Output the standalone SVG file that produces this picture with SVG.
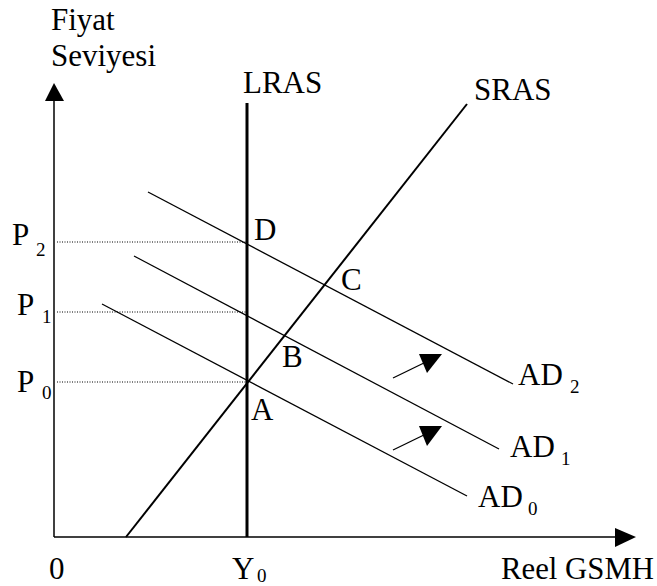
<svg xmlns="http://www.w3.org/2000/svg" width="657" height="586" viewBox="0 0 657 586">
<style>
text{font-family:"Liberation Serif","Times New Roman",serif;fill:#000;font-size:31px}
.sub{font-size:19px}
.ad{stroke:#000;stroke-width:1.3;fill:none}
.dot{stroke:#000;stroke-width:1;stroke-dasharray:1 1.5;fill:none}
.ax{stroke:#000;stroke-width:1.5;fill:none}
</style>
<rect width="657" height="586" fill="#fff"/>
<g id="axes">
<line class="ax" x1="54" y1="98" x2="54" y2="537"/>
<polygon points="54,83 45,101 64,101" fill="#000"/>
<line class="ax" x1="54" y1="537" x2="618" y2="537"/>
<polygon points="636,537 615,528 615,547" fill="#000"/>
</g>
<g id="guides">
<line class="dot" x1="57" y1="242" x2="246" y2="242"/>
<line class="dot" x1="57" y1="312" x2="246" y2="312"/>
<line class="dot" x1="57" y1="382" x2="246" y2="382"/>
</g>
<g id="LRAS">
<line x1="247" y1="103" x2="247" y2="537" stroke="#000" stroke-width="3"/>
<text x="243" y="93">LRAS</text>
</g>
<g id="SRAS">
<line x1="126" y1="537" x2="467" y2="104" stroke="#000" stroke-width="2"/>
<text x="474" y="100">SRAS</text>
</g>
<g id="AD0">
<line class="ad" x1="102" y1="304" x2="467" y2="496"/>
<text x="478" y="507">AD<tspan class="sub" x="528" y="515">0</tspan></text>
</g>
<g id="AD1">
<line class="ad" x1="134" y1="256" x2="499" y2="449"/>
<text x="510" y="457">AD<tspan class="sub" x="561" y="465">1</tspan></text>
</g>
<g id="AD2">
<line class="ad" x1="148" y1="192" x2="513" y2="384"/>
<text x="518" y="385">AD<tspan class="sub" x="570" y="393">2</tspan></text>
</g>
<g id="shifts">
<line class="ad" x1="393" y1="378" x2="428" y2="361"/>
<polygon points="419,354 442,354 427,373" fill="#000"/>
<line class="ad" x1="393" y1="450" x2="428" y2="433"/>
<polygon points="419,426 442,426 427,446" fill="#000"/>
</g>
<g id="points">
<text x="254" y="240">D</text>
<text x="341" y="290">C</text>
<text x="282" y="367">B</text>
<text x="251" y="420">A</text>
</g>
<g id="labels">
<text x="51" y="30">Fiyat</text>
<text x="51" y="66">Seviyesi</text>
<text x="12" y="245">P<tspan class="sub" x="36" y="256">2</tspan></text>
<text x="17" y="315">P<tspan class="sub" x="42" y="323">1</tspan></text>
<text x="17" y="392">P<tspan class="sub" x="42" y="399">0</tspan></text>
<text x="49" y="579">0</text>
<text x="232" y="579">Y<tspan class="sub" x="257" y="582">0</tspan></text>
<text x="501" y="579" textLength="153" lengthAdjust="spacingAndGlyphs">Reel GSMH</text>
</g>
</svg>
